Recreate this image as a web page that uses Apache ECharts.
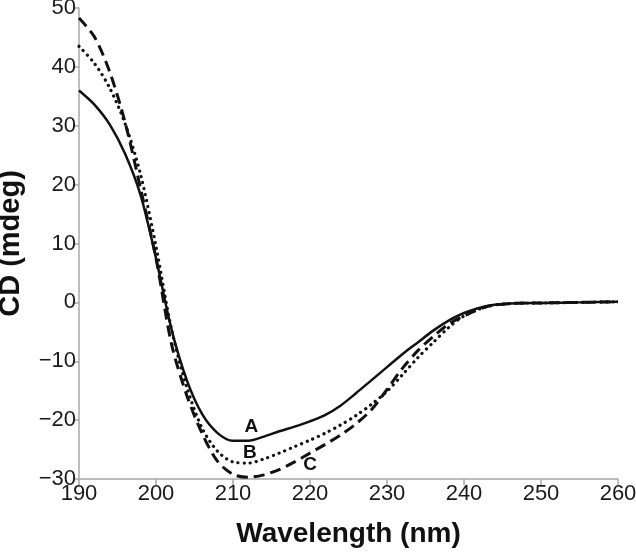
<!DOCTYPE html>
<html>
<head>
<meta charset="utf-8">
<script src="https://cdn.jsdelivr.net/npm/echarts@6/dist/echarts.min.js"></script>
<style>html,body{margin:0;padding:0;background:#fff}#c{width:636px;height:555px}</style>
</head>
<body>
<div id="c"></div>
<script>
var wavelengths = [190,192,194,196,198,200,202,204,206,208,210,212,214,216,218,220,222,224,226,228,230,232,234,236,238,240,243,246,250,255,260];
var seriesA = [36,33.6,30.2,25.2,18.2,7.5,-4.5,-13.2,-19,-22.2,-23.5,-23.5,-22.8,-21.9,-21.1,-20.2,-19.1,-17.5,-15.4,-13.2,-11,-8.8,-6.8,-4.8,-3.1,-1.8,-0.6,-0.2,-0.1,0,0.1];
var seriesB = [43.5,40.6,36.4,30.3,21.7,9.5,-4.5,-14.4,-21.4,-25.3,-27.1,-27.3,-26.6,-25.6,-24.5,-23.4,-22.2,-20.8,-19.2,-17.3,-15.1,-12.3,-9.4,-6.8,-4.3,-2.3,-0.7,-0.2,-0.1,0,0.1];
var seriesC = [48.3,45.1,39.1,30.5,19.3,7.5,-7,-15.8,-22.3,-27,-29.2,-29.7,-29.3,-28.4,-27.1,-25.6,-24.1,-22.5,-20.6,-18.2,-14.8,-11.2,-8.2,-5.8,-3.7,-2.3,-0.7,-0.2,-0.1,0,0.1];
var labelNames = ['A','B','C'];
var labelX = [212.4, 212.2, 220];
var labelY = [-21.1, -25.6, -27.6];

function pairs(ys){ return wavelengths.map(function(x,i){ return [x, ys[i]]; }); }
function mp(i){
  return {symbolSize:0, data:[{coord:[labelX[i], labelY[i]], value:labelNames[i]}],
    label:{show:true, position:'inside', formatter:labelNames[i], color:'#111', fontSize:19, fontWeight:'bold', fontFamily:'Liberation Sans, Arial, sans-serif'}};
}
var chart = echarts.init(document.getElementById('c'), null, {renderer:'canvas'});
var axisFont = {fontFamily:'Liberation Sans, Arial, sans-serif', fontSize:22, color:'#1a1a1a'};
chart.setOption({
  animation:false,
  grid:{left:79, right:18, top:8, bottom:76, containLabel:false, outerBoundsMode:'none'},
  xAxis:{type:'value', min:190, max:260, interval:10,
    name:'Wavelength (nm)', nameLocation:'middle', nameGap:41, nameMoveOverlap:false,
    nameTextStyle:{fontFamily:'Liberation Sans, Arial, sans-serif', fontSize:28, fontWeight:'bold', color:'#111'},
    axisLine:{show:true, onZero:false, lineStyle:{color:'#a8a8a8', width:1.5}},
    axisTick:{show:true, length:6, lineStyle:{color:'#a8a8a8', width:1.5}},
    axisLabel:Object.assign({margin:4}, axisFont),
    splitLine:{show:false}},
  yAxis:{type:'value', min:-30, max:50, interval:10,
    name:'CD (mdeg)', nameLocation:'middle', nameGap:54, nameMoveOverlap:false,
    nameTextStyle:{fontFamily:'Liberation Sans, Arial, sans-serif', fontSize:29, fontWeight:'bold', color:'#111'},
    axisLine:{show:true, onZero:false, lineStyle:{color:'#a8a8a8', width:1.5}},
    axisTick:{show:true, length:6, lineStyle:{color:'#a8a8a8', width:1.5}},
    axisLabel:Object.assign({margin:3, formatter:function(v){ return String(v).replace('-', '\u2212'); }}, axisFont),
    splitLine:{show:false}},
  series:[
    {type:'line', data:pairs(seriesA), smooth:0.3, showSymbol:false, lineStyle:{color:'#111', width:2.5}, markPoint:mp(0)},
    {type:'line', data:pairs(seriesB), smooth:0.3, showSymbol:false, lineStyle:{color:'#111', width:3.2, type:[0.1,6], cap:'round'}, markPoint:mp(1)},
    {type:'line', data:pairs(seriesC), smooth:0.3, showSymbol:false, lineStyle:{color:'#111', width:3, type:[11,6]}, markPoint:mp(2)}
  ]
});
</script>
</body>
</html>
